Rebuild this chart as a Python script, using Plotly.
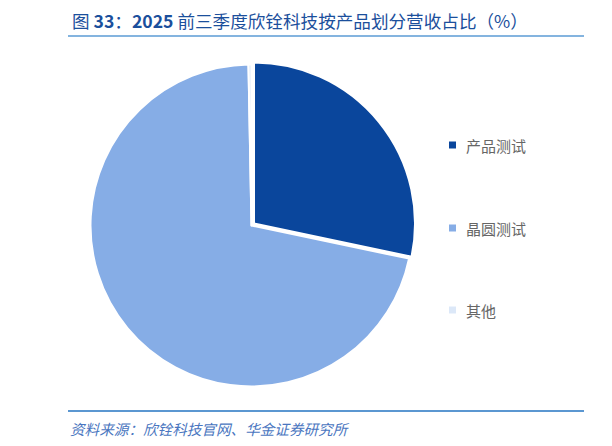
import plotly.graph_objects as go

labels = ["产品测试", "晶圆测试", "其他"]
values = [28.3, 71.4, 0.3]
colors = ["#0a469c", "#86ade6", "#dce8f8"]

title_text = "图 <b>33</b>：<b>2025</b> 前三季度欣铨科技按产品划分营收占比（%）"
source_text = "资料来源：欣铨科技官网、华金证券研究所"

# page has an 8px body margin; work in page pixels and convert
OFF = 8
W, H = 612 - OFF, 446 - OFF


def px(x):
    return (x - OFF) / W


def py(y):
    return 1 - (y - OFF) / H


cx, cy, r = 251.5, 225.5, 161
pull = 0.02
rr = r * (1 + pull)

fig = go.Figure()
fig.add_trace(go.Pie(
    labels=labels, values=values, sort=False, direction="clockwise", rotation=0,
    marker=dict(colors=colors, line=dict(color="white", width=2)),
    pull=[pull, 0, 0], textinfo="none", hoverinfo="label+percent",
    showlegend=False,
    domain=dict(x=[px(cx - rr), px(cx + rr)], y=[py(cy + rr), py(cy - rr)]),
))

shapes = [
    dict(type="line", xref="paper", yref="paper", x0=px(68), x1=px(584), y0=py(36), y1=py(36),
         line=dict(color="#5b9bd5", width=1.5)),
    dict(type="line", xref="paper", yref="paper", x0=px(68), x1=px(584), y0=py(411), y1=py(411),
         line=dict(color="#2474c2", width=1.5)),
    dict(type="line", xref="paper", yref="paper", x0=px(608), x1=px(612), y0=py(36), y1=py(36),
         line=dict(color="#5b9bd5", width=1.5)),
    dict(type="line", xref="paper", yref="paper", x0=px(608), x1=px(612), y0=py(411), y1=py(411),
         line=dict(color="#2474c2", width=1.5)),
]
annotations = [
    dict(text=title_text, xref="paper", yref="paper", x=px(70), y=py(21), xanchor="left", yanchor="middle",
         showarrow=False, font=dict(family="Noto Sans CJK SC", size=17.6, color="#1b4f9c")),
    dict(text="<i>" + source_text + "</i>", xref="paper", yref="paper", x=px(68), y=py(428),
         xanchor="left", yanchor="middle", showarrow=False,
         font=dict(family="Noto Sans CJK SC", size=14.6, color="#4a76c0")),
]
legend_y = [145, 228, 310]
for lab, col, ly in zip(labels, colors, legend_y):
    shapes.append(dict(type="rect", xref="paper", yref="paper",
                       x0=px(449), x1=px(456), y0=py(ly + 3.5), y1=py(ly - 3.5),
                       fillcolor=col, line=dict(width=0)))
    annotations.append(dict(text=lab, xref="paper", yref="paper", x=px(464), y=py(ly),
                            xanchor="left", yanchor="middle", showarrow=False,
                            font=dict(family="Noto Sans CJK SC", size=15, color="#666666")))

fig.update_layout(
    width=W, height=H, margin=dict(l=0, r=0, t=0, b=0),
    paper_bgcolor="white", plot_bgcolor="white",
    shapes=shapes, annotations=annotations,
)
fig.write_html("out.html")
